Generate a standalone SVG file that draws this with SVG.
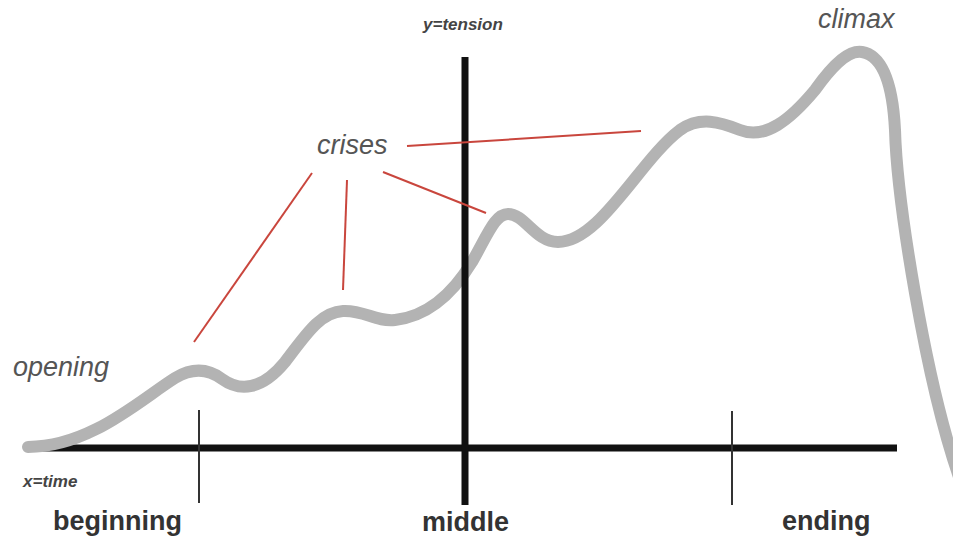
<svg xmlns="http://www.w3.org/2000/svg" width="953" height="539" viewBox="0 0 953 539">
<style>
.axis{stroke:#111;stroke-width:7;fill:none}
.tick{stroke:#333;stroke-width:2;fill:none}
.curve{stroke:#b3b3b3;stroke-width:12;fill:none;stroke-linecap:round;stroke-linejoin:round}
.red{stroke:#c9463d;stroke-width:2;fill:none}
.lbl{font-family:"Liberation Sans",Arial,sans-serif;font-style:italic;font-size:27px;fill:#555}
.ax{font-family:"Liberation Sans",Arial,sans-serif;font-style:italic;font-weight:bold;font-size:17px;fill:#444}
.sec{font-family:"Liberation Sans",Arial,sans-serif;font-weight:bold;font-size:27px;fill:#333}
</style>
<rect width="953" height="539" fill="#fff"/>
<g id="axes">
<line class="axis" x1="30" y1="448" x2="897" y2="448"/>
<line class="tick" x1="199" y1="410" x2="199" y2="503"/>
<line class="tick" x1="732" y1="411" x2="732" y2="505"/>
</g>
<g id="curve">
<path class="curve" d="M 28 447 C 90 447 140 400 175 378 C 195 366 210 370 222 379 C 240 392 262 390 285 362 C 305 336 320 312 343 311 C 365 310 375 322 395 320 C 430 316 455 290 472 262 C 488 234 495 214 508 214 C 525 214 535 242 558 242 C 600 242 640 160 680 130 C 700 116 720 122 740 130 C 765 140 790 120 815 90 C 835 62 850 50 862 52 C 885 56 893 90 895 130 C 897 200 925 380 960 480"/>
</g>
<g id="y-axis">
<line class="axis" x1="465" y1="57" x2="465" y2="505"/>
</g>
<g id="connectors">
<line class="red" x1="312" y1="173" x2="194" y2="342"/>
<line class="red" x1="347" y1="180" x2="343" y2="290"/>
<line class="red" x1="383" y1="172" x2="486" y2="213"/>
<line class="red" x1="407" y1="146" x2="641" y2="131"/>
</g>
<g id="labels">
<text class="ax" x="423" y="30">y=tension</text>
<text class="ax" x="23" y="487">x=time</text>
<text class="lbl" x="818" y="28">climax</text>
<text class="lbl" x="317" y="154">crises</text>
<text class="lbl" x="13" y="376">opening</text>
<text class="sec" x="53" y="530">beginning</text>
<text class="sec" x="422" y="531">middle</text>
<text class="sec" x="782" y="530">ending</text>
</g>
</svg>
